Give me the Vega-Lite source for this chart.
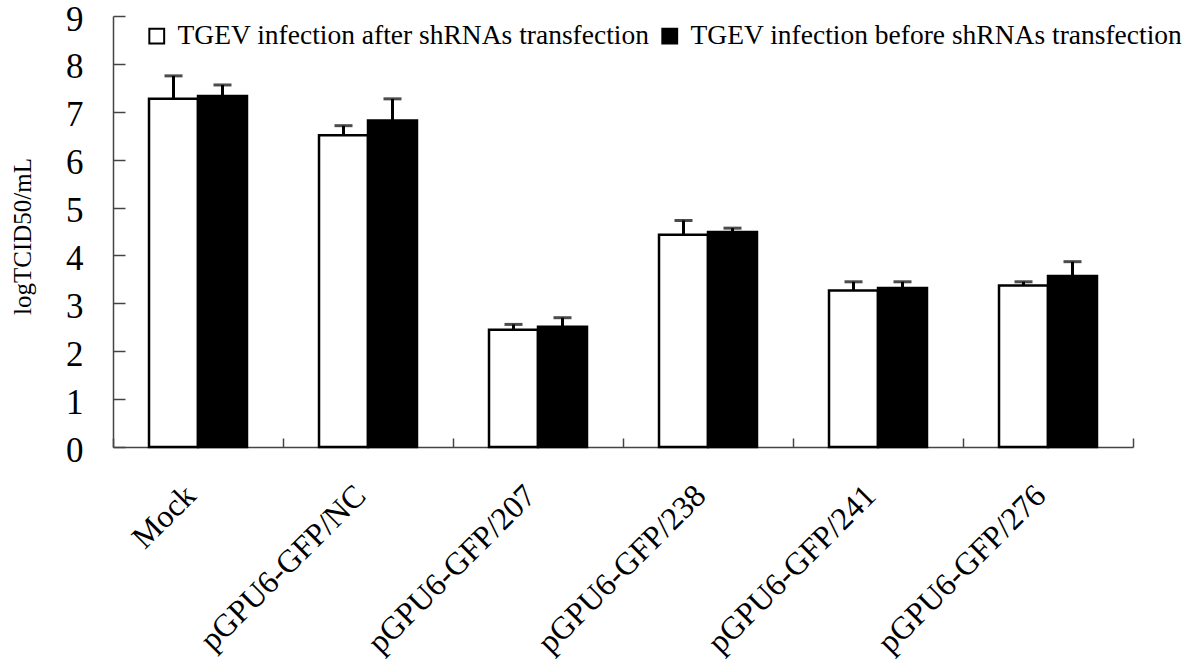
{
  "$schema": "https://vega.github.io/schema/vega-lite/v6.json",
  "width": 1020,
  "height": 431,
  "autosize": {"type": "none"},
  "padding": {"left": 113, "top": 16, "right": 67, "bottom": 214},
  "background": "white",
  "config": {
    "view": {"stroke": null},
    "font": "Liberation Serif",
    "legend": {"labelFont": "Liberation Serif", "labelFontSize": 27.5, "labelColor": "black"},
    "axis": {"grid": false, "labelFont": "Liberation Serif", "titleFont": "Liberation Serif", "labelColor": "black", "titleColor": "black", "titleFontWeight": "normal", "domainColor": "#444", "tickColor": "#444", "domainWidth": 1.5, "tickWidth": 1.5}
  },
  "data": {
    "values": [
      {"group": "Mock", "series": "TGEV infection after shRNAs transfection", "value": 7.27, "upper": 7.75},
      {"group": "Mock", "series": "TGEV infection before shRNAs transfection", "value": 7.33, "upper": 7.56},
      {"group": "pGPU6-GFP/NC", "series": "TGEV infection after shRNAs transfection", "value": 6.51, "upper": 6.71},
      {"group": "pGPU6-GFP/NC", "series": "TGEV infection before shRNAs transfection", "value": 6.82, "upper": 7.27},
      {"group": "pGPU6-GFP/207", "series": "TGEV infection after shRNAs transfection", "value": 2.45, "upper": 2.56},
      {"group": "pGPU6-GFP/207", "series": "TGEV infection before shRNAs transfection", "value": 2.51, "upper": 2.70},
      {"group": "pGPU6-GFP/238", "series": "TGEV infection after shRNAs transfection", "value": 4.43, "upper": 4.73},
      {"group": "pGPU6-GFP/238", "series": "TGEV infection before shRNAs transfection", "value": 4.49, "upper": 4.57},
      {"group": "pGPU6-GFP/241", "series": "TGEV infection after shRNAs transfection", "value": 3.27, "upper": 3.45},
      {"group": "pGPU6-GFP/241", "series": "TGEV infection before shRNAs transfection", "value": 3.32, "upper": 3.45},
      {"group": "pGPU6-GFP/276", "series": "TGEV infection after shRNAs transfection", "value": 3.37, "upper": 3.45},
      {"group": "pGPU6-GFP/276", "series": "TGEV infection before shRNAs transfection", "value": 3.57, "upper": 3.87}
    ]
  },
  "encoding": {
    "x": {
      "field": "group", "type": "nominal", "sort": null,
      "scale": {"paddingInner": 0, "paddingOuter": 0},
      "axis": {"title": null, "labelAngle": -45, "labelAlign": "right", "labelBaseline": "middle", "labelFontSize": 32, "labelPadding": 52, "labelOffset": -8, "tickSize": -9, "tickBand": "extent", "labelLimit": 400}
    },
    "xOffset": {"field": "series", "type": "nominal", "sort": null, "scale": {"paddingInner": 0, "paddingOuter": 0.735}}
  },
  "layer": [
    {
      "mark": {"type": "bar", "stroke": "black", "strokeWidth": 2.5},
      "encoding": {
        "y": {
          "field": "value", "type": "quantitative",
          "scale": {"domain": [0, 9], "nice": false},
          "axis": {"title": "logTCID50/mL", "titleFontSize": 25, "titleAngle": -90, "titleX": -91, "titleY": 220, "titleAlign": "center", "titleBaseline": "middle", "values": [0,1,2,3,4,5,6,7,8,9], "labelFontSize": 35, "labelPadding": 42, "labelOffset": 3, "tickSize": -12}
        },
        "fill": {
          "field": "series", "type": "nominal", "sort": null,
          "scale": {"range": ["white", "black"]},
          "legend": {"title": null, "orient": "none", "direction": "horizontal", "legendX": 30, "legendY": 6, "symbolType": "square", "symbolSize": 220, "symbolStrokeColor": "black", "symbolStrokeWidth": 2, "labelFontSize": 27.5, "labelFont": "Liberation Serif", "labelColor": "black", "labelLimit": 700, "columnPadding": 6, "labelOffset": 7}
        }
      }
    },
    {
      "mark": {"type": "rule", "color": "black", "strokeWidth": 3},
      "encoding": {
        "y": {"field": "value", "type": "quantitative"},
        "y2": {"field": "upper"}
      }
    },
    {
      "mark": {"type": "tick", "color": "black", "thickness": 3, "size": 18, "orient": "horizontal"},
      "encoding": {
        "y": {"field": "upper", "type": "quantitative"}
      }
    }
  ]
}
